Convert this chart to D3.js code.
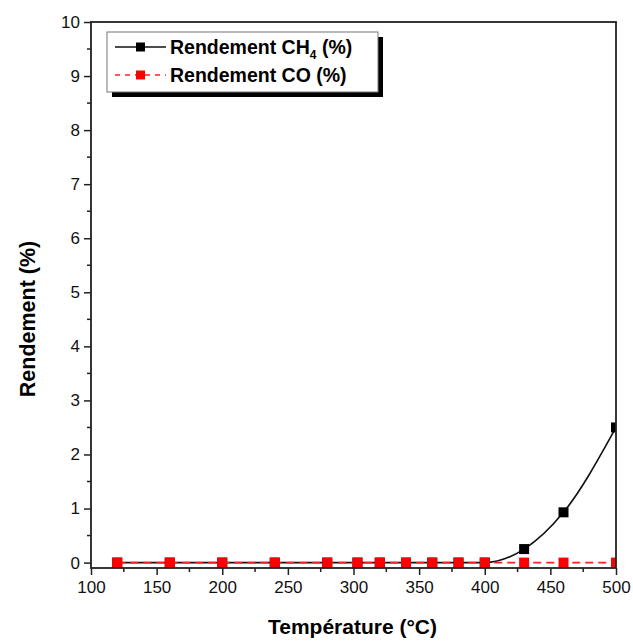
<!DOCTYPE html>
<html><head><meta charset="utf-8">
<script src="https://cdn.jsdelivr.net/npm/d3@7"></script>
<style>body{margin:0;background:#fff;} svg{display:block;}</style>
</head><body>
<svg id="chart" width="633" height="641"></svg>
<script>
const temperatures = [120,160,200,240,280,303,320,340,360,380,400,430,460,500];
const ch4Yield =     [0,0,0,0,0,0,0,0,0,0,0,0.25,0.93,2.5];
const coYield =      [0,0,0,0,0,0,0,0,0,0,0,0,0,0];
const xTicks = [100,150,200,250,300,350,400,450,500];
const yTicks = [0,1,2,3,4,5,6,7,8,9,10];

const svg = d3.select("#chart");
const L=91, R=616, T=22, B=568;
const x = d3.scaleLinear().domain([100,500]).range([L,R]);
const y = d3.scaleLinear().domain([-0.1,10]).range([B,T]);
const font = "Arial, 'Liberation Sans', sans-serif";
const axisColor = "#222";

svg.append("defs").append("clipPath").attr("id","plotclip")
  .append("rect").attr("x",L).attr("y",T).attr("width",R-L).attr("height",B-T);

// x axis
const xAxis = d3.axisBottom(x).tickValues(xTicks).tickSize(7).tickPadding(6).tickFormat(d3.format("d"));
const gx = svg.append("g").attr("transform",`translate(0,${B})`).call(xAxis);
gx.select(".domain").remove();
gx.selectAll("line").attr("stroke",axisColor).attr("stroke-width",1.5);
gx.selectAll("text").attr("font-family",font).attr("font-size",17).attr("fill","#111");
const xMinor = d3.range(125,500,50);
svg.append("g").selectAll("line").data(xMinor).join("line")
  .attr("x1",d=>x(d)).attr("x2",d=>x(d)).attr("y1",B).attr("y2",B+4)
  .attr("stroke",axisColor).attr("stroke-width",1.5);

// y axis
const yAxis = d3.axisLeft(y).tickValues(yTicks).tickSize(7).tickPadding(4).tickFormat(d3.format("d"));
const gy = svg.append("g").attr("transform",`translate(${L},0)`).call(yAxis);
gy.select(".domain").remove();
gy.selectAll("line").attr("stroke",axisColor).attr("stroke-width",1.5);
gy.selectAll("text").attr("font-family",font).attr("font-size",17).attr("fill","#111");
const yMinor = d3.range(0.5,10,1);
svg.append("g").selectAll("line").data(yMinor).join("line")
  .attr("x1",L-4).attr("x2",L).attr("y1",d=>y(d)).attr("y2",d=>y(d))
  .attr("stroke",axisColor).attr("stroke-width",1.5);

// axis titles
svg.append("text").attr("x",(L+R)/2 - 1).attr("y",634).attr("text-anchor","middle")
  .attr("font-family",font).attr("font-weight","bold").attr("font-size",21).text("Température (°C)");
svg.append("text").attr("transform",`translate(35,${(T+B)/2 + 24}) rotate(-90)`).attr("text-anchor","middle")
  .attr("font-family",font).attr("font-weight","bold").attr("font-size",21.5).text("Rendement (%)");

const ch4 = temperatures.map((t,i)=>({t,v:ch4Yield[i]}));
const co = temperatures.map((t,i)=>({t,v:coYield[i]}));

const plot = svg.append("g").attr("clip-path","url(#plotclip)");
// CH4 line
plot.append("path").datum(ch4)
  .attr("d", d3.line().x(d=>x(d.t)).y(d=>y(d.v)).curve(d3.curveMonotoneX))
  .attr("fill","none").attr("stroke","#111").attr("stroke-width",1.6);
plot.append("g").selectAll("rect").data(ch4).join("rect")
  .attr("x",d=>x(d.t)-5).attr("y",d=>y(d.v)-5).attr("width",10).attr("height",10).attr("fill","#000");

// CO line
plot.append("path").datum(co)
  .attr("d", d3.line().x(d=>x(d.t)).y(d=>y(d.v)))
  .attr("fill","none").attr("stroke","#ff2020").attr("stroke-width",1.8).attr("stroke-dasharray","8,5");
plot.append("g").selectAll("rect").data(co).join("rect")
  .attr("x",d=>x(d.t)-5).attr("y",d=>y(d.v)-5).attr("width",10).attr("height",10).attr("fill","#ff0000");

// frame
svg.append("rect").attr("x",L).attr("y",T).attr("width",R-L).attr("height",B-T)
  .attr("fill","none").attr("stroke",axisColor).attr("stroke-width",1.8);

// legend
const lg = svg.append("g");
lg.append("rect").attr("x",112).attr("y",37).attr("width",271).attr("height",60).attr("fill","#000");
lg.append("rect").attr("x",107).attr("y",32).attr("width",271).attr("height",60)
  .attr("fill","#fff").attr("stroke","#777").attr("stroke-width",1);
const rows = [{y:47,color:"#111",dash:null,fill:"#000"},{y:75,color:"#ff2020",dash:"5,5",fill:"#ff0000"}];
rows.forEach(r=>{
  lg.append("line").attr("x1",115).attr("x2",166).attr("y1",r.y).attr("y2",r.y)
    .attr("stroke",r.color).attr("stroke-width",1.6).attr("stroke-dasharray",r.dash);
  lg.append("rect").attr("x",136).attr("y",r.y-4.5).attr("width",9).attr("height",9).attr("fill",r.fill);
});
const t1 = lg.append("text").attr("x",170).attr("y",54).attr("font-family",font).attr("font-weight","bold").attr("font-size",19.5);
t1.append("tspan").text("Rendement CH");
t1.append("tspan").attr("font-size",12).attr("dy",5).text("4");
t1.append("tspan").attr("dy",-5).text(" (%)");
lg.append("text").attr("x",170).attr("y",82).attr("font-family",font).attr("font-weight","bold").attr("font-size",19.5).text("Rendement CO (%)");
</script>
</body></html>
